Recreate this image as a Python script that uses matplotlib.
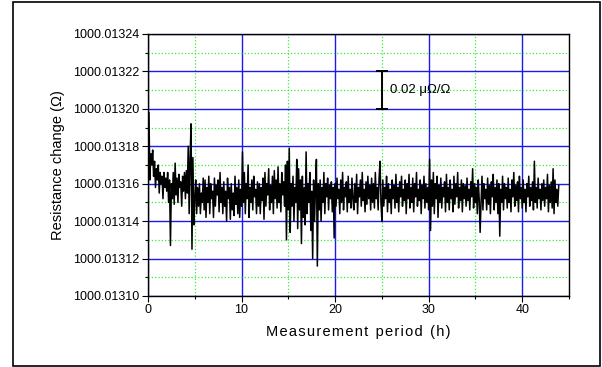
import numpy as np
import matplotlib
matplotlib.use("Agg")
import matplotlib.pyplot as plt
from matplotlib.ticker import MultipleLocator, FormatStrFormatter
from matplotlib.patches import Rectangle

plt.rcParams['font.family'] = ['Liberation Sans', 'DejaVu Sans']

# resistance readings, in micro-ohm above 1000.0131 ohm, one every 0.1 h
base_ohm = 1000.0131
step_h = 0.1
readings_uohm = [
    60, 98, 62, 76, 70, 78, 64, 72, 58, 68, 62, 70, 55, 66, 60, 64, 52, 66, 58, 63,
    56, 66, 50, 62, 27, 60, 52, 66, 49, 71, 54, 63, 50, 65, 58, 61, 48, 64, 56, 66,
    52, 67, 55, 80, 44, 74, 92, 25, 74, 38, 52, 62, 44, 58, 48, 60, 44, 55, 50, 63,
    46, 62, 42, 58, 50, 64, 44, 60, 52, 56, 42, 63, 48, 59, 54, 62, 45, 66, 50, 58,
    44, 61, 48, 56, 40, 63, 52, 58, 41, 60, 46, 55, 43, 64, 49, 58, 44, 62, 42, 57,
    48, 77, 50, 66, 44, 60, 52, 70, 42, 58, 50, 62, 46, 64, 53, 57, 44, 61, 48, 60,
    44, 58, 51, 63, 41, 66, 48, 60, 54, 68, 46, 59, 50, 64, 44, 67, 52, 62, 47, 69,
    50, 60, 45, 66, 54, 61, 48, 70, 30, 72, 46, 79, 34, 60, 48, 64, 40, 58, 50, 73,
    36, 68, 46, 62, 28, 64, 42, 58, 38, 77, 44, 60, 50, 66, 35, 56, 20, 62, 40, 58,
    73, 16, 60, 46, 62, 40, 58, 50, 66, 44, 60, 53, 63, 46, 59, 52, 61, 45, 58, 31,
    60, 48, 63, 52, 57, 44, 62, 50, 66, 46, 58, 53, 61, 45, 64, 50, 57, 47, 63, 52,
    46, 60, 50, 65, 44, 58, 53, 62, 48, 66, 51, 57, 45, 61, 49, 64, 52, 59, 46, 63,
    50, 60, 47, 66, 52, 58, 46, 63, 72, 50, 40, 62, 48, 58, 52, 64, 45, 60, 50, 57,
    44, 62, 52, 59, 47, 65, 50, 58, 45, 61, 53, 64, 48, 57, 51, 62, 44, 60, 52, 65,
    47, 58, 50, 63, 45, 60, 53, 66, 48, 57, 51, 62, 44, 59, 52, 64, 47, 60, 50, 58,
    46, 73, 35, 62, 48, 66, 44, 60, 52, 64, 42, 59, 50, 63, 47, 58, 53, 61, 45, 65,
    50, 58, 46, 62, 52, 57, 45, 64, 49, 60, 53, 66, 47, 58, 51, 62, 45, 60, 52, 59,
    48, 63, 51, 57, 46, 61, 53, 68, 47, 60, 50, 58, 44, 62, 52, 34, 50, 64, 46, 60,
    52, 57, 46, 63, 49, 59, 44, 61, 53, 65, 46, 58, 50, 62, 44, 60, 32, 57, 50, 64,
    46, 60, 52, 58, 47, 63, 50, 57, 45, 62, 53, 66, 48, 59, 51, 61, 45, 64, 52, 58,
    47, 62, 50, 57, 45, 60, 53, 64, 48, 58, 51, 61, 46, 72, 50, 58, 47, 63, 52, 57,
    46, 60, 51, 62, 48, 58, 52, 65, 45, 59, 50, 61, 47, 68, 44, 62, 50, 57, 48, 59,
]

y_ticks = [1000.01310, 1000.01312, 1000.01314, 1000.01316,
           1000.01318, 1000.01320, 1000.01322, 1000.01324]
x_ticks = [0, 10, 20, 30, 40]

# scale bar: 0.02 uOhm/Ohm on 1000 Ohm
bar_x = 25
bar_lo = 1000.01320
bar_hi = 1000.01322
bar_label = "0.02 \u03bc\u03a9/\u03a9"

hours = np.arange(len(readings_uohm)) * step_h
resistance = base_ohm + np.array(readings_uohm) * 1e-6

fig = plt.figure(figsize=(6.02, 3.67), dpi=100)
ax = fig.add_axes([148 / 602, 71 / 367, 421 / 602, 262 / 367])

# outer frame
fig.patches.append(Rectangle((13 / 602, 1.5 / 367), 586.5 / 602, 364 / 367,
                             transform=fig.transFigure, fill=False,
                             edgecolor='black', linewidth=1.2))

ax.plot(hours, resistance, color='black', linewidth=1.1, zorder=3)

ax.set_xlim(0, 45)
ax.set_ylim(y_ticks[0], y_ticks[-1])
ax.set_xticks(x_ticks)
ax.xaxis.set_minor_locator(MultipleLocator(5))
ax.set_yticks(y_ticks)
ax.set_yticks([(a + b) / 2 for a, b in zip(y_ticks[:-1], y_ticks[1:])], minor=True)
ax.yaxis.set_major_formatter(FormatStrFormatter('%.5f'))

ax.grid(which='major', color='#1a1aee', linewidth=1.0, linestyle='-')
ax.grid(which='minor', color='#33ee33', linewidth=0.9, linestyle=':')
ax.set_axisbelow(True)

ax.tick_params(which='major', direction='out', length=4, width=0.8,
               labelsize=9, colors='black', pad=2)
ax.tick_params(which='minor', direction='out', length=2.5, width=0.8)
for s in ax.spines.values():
    s.set_linewidth(1.0)

ax.set_xlabel("M e a s u r e m e n t   p e r i o d   ( h )".replace("   ", "\u2002").replace(" ", "\u200a"),
              fontsize=10.5, labelpad=6)
ax.set_ylabel("Resistance change (\u03a9)", fontsize=10.5, labelpad=6)

# scale bar
ax.errorbar([bar_x], [(bar_lo + bar_hi) / 2], yerr=[(bar_hi - bar_lo) / 2],
            color='black', capsize=4, elinewidth=1.4, capthick=1.4, zorder=4)
ax.text(bar_x + 0.9, (bar_lo + bar_hi) / 2, bar_label, fontsize=9.5,
        va='center', ha='left')

fig.savefig("out.png", dpi=100)
